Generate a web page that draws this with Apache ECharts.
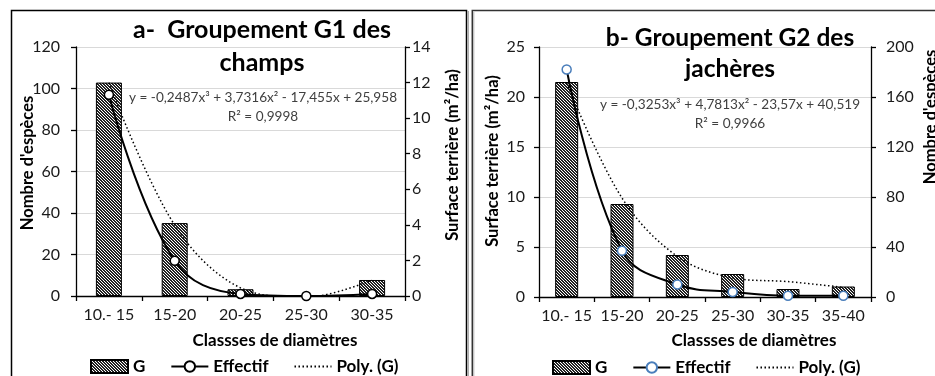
<!DOCTYPE html>
<html><head><meta charset="utf-8">
<script src="https://cdn.jsdelivr.net/npm/echarts@6/dist/echarts.min.js"></script>
<style>
html,body{margin:0;padding:0;background:#fff;}
#wrap{position:relative;width:935px;height:376px;overflow:hidden;}
#a{position:absolute;left:0;top:0;width:469px;height:376px;}
#b{position:absolute;left:469px;top:0;width:466px;height:376px;}
</style></head>
<body><div id="wrap"><div id="a"></div><div id="b"></div></div>
<script>
// ---- Data: chart a (G1 des champs) ----
const catsA = ['10.- 15','15-20','20-25','25-30','30-35'];
const gA = [12.0, 4.1, 0.38, 0, 0.9];          // Surface terrière (m²/ha)
const effA = [97, 17, 1, 0, 1];                 // Nombre d'espèces
const polyA = [11.99, 3.98, 0.46, -0.07, 0.89]; // Poly. (G) trend values at classes
// ---- Data: chart b (G2 des jachères) ----
const catsB = ['10.- 15','15-20','20-25','25-30','30-35','35-40'];
const gB = [21.5, 9.3, 4.2, 2.3, 0.8, 1.05];
const effB = [182, 37, 10, 4, 1, 1];
const polyB = [21.4, 9.9, 4.06, 1.92, 1.54, 0.96];

const FONT = 'Lato';
function hatch(){
  const c = document.createElement('canvas'); c.width = 3; c.height = 3;
  const ctx = c.getContext('2d');
  ctx.fillStyle = '#ffffff'; ctx.fillRect(0,0,3,3);
  ctx.fillStyle = '#222222';
  for (let x=0;x<3;x++) for (let y=0;y<3;y++) if (((x - y + 6) % 3) !== 0) ctx.fillRect(x,y,1,1);
  return {image: c, repeat: 'repeat'};
}
const pat = hatch();

function makeOption(cfg){
  const axisLine = {show:true, lineStyle:{color:'#000', width:1.3}};
  const tick = {show:true, inside:false, length:5, lineStyle:{color:'#000', width:1.3}};
  const lbl = {fontFamily:FONT, fontSize:16, color:'#1a1a1a'};
  return {
    animation:false,
    textStyle:{fontFamily:FONT},
    grid:{left:cfg.grid[0], top:cfg.grid[1], width:cfg.grid[2], height:cfg.grid[3], containLabel:false},
    xAxis:{type:'category', data:cfg.cats, axisLine:axisLine, axisTick:tick,
      axisLabel:Object.assign({margin:11, interval:0}, lbl), splitLine:{show:false}},
    yAxis:[
      {type:'value', position:'left', min:cfg.yl[0], max:cfg.yl[1], interval:cfg.yl[2],
        axisLine:axisLine, axisTick:tick, axisLabel:Object.assign({margin:cfg.ml}, lbl),
        splitLine:{show:true, lineStyle:{color:'#d9d9d9', width:1}}},
      {type:'value', position:'right', min:cfg.yr[0], max:cfg.yr[1], interval:cfg.yr[2],
        axisLine:axisLine, axisTick:tick, axisLabel:Object.assign({margin:cfg.mr}, lbl),
        splitLine:{show:false}}
    ],
    legend:{left:cfg.legLeft, top:cfg.legTop, itemWidth:37, itemHeight:13, itemGap:25,
      textStyle:{fontFamily:FONT, fontSize:17, fontWeight:'bold', color:'#000'},
      data:[{name:'G', icon:'rect'}, {name:'Effectif'},
        {name:'Poly. (G)', itemStyle:{color:'rgba(0,0,0,0)', borderWidth:0, opacity:0}}]},
    series:[
      {name:'G', type:'bar', yAxisIndex:cfg.gAxis, data:cfg.g, barWidth:cfg.barW,
        itemStyle:{color:pat, borderColor:'#000', borderWidth:1}, z:2},
      {name:'Poly. (G)', type:'line', yAxisIndex:cfg.gAxis, data:cfg.poly, smooth:0.35,
        symbol:'none', lineStyle:{color:'#000', width:1.5, type:[1.5,2.5]},
        itemStyle:{color:'rgba(0,0,0,0)'}, z:3},
      {name:'Effectif', type:'line', yAxisIndex:1-cfg.gAxis, data:cfg.eff, smooth:0.4,
        symbol:'circle', symbolSize:9, showSymbol:true,
        lineStyle:{color:'#000', width:2},
        itemStyle:{color:'#fff', borderColor:cfg.mk, borderWidth:1.5}, z:4}
    ],
    graphic:cfg.graphic
  };
}

function txt(x,y,text,size,bold,extra){
  return Object.assign({type:'text', x:x, y:y, silent:true, z:10,
    style:{text:text, fontFamily:FONT, fontSize:size, fontWeight:bold?'bold':'normal',
      fill:'#000', align:'center', verticalAlign:'middle'}}, extra||{});
}
function vtxt(x,y,text){
  return {type:'text', x:x, y:y, rotation:Math.PI/2, silent:true, z:10,
    style:{text:text, fontFamily:FONT, fontSize:16.5, fontWeight:'bold', fill:'#000',
      align:'center', verticalAlign:'middle'}};
}
function eq(x,y,text){
  const t = txt(x,y,text,13.6,false); t.style.fill = '#404040'; return t;
}

const chartA = echarts.init(document.getElementById('a'), null, {renderer:'canvas', devicePixelRatio:1});
chartA.setOption(makeOption({
  cats:catsA, g:gA, eff:effA, poly:polyA, gAxis:1,
  grid:[76,47,329,249], yl:[0,120,20], yr:[0,14,2], ml:16, mr:7,
  barW:26, mk:'#000', legLeft:85, legTop:353,
  graphic:[
    {type:'polyline', silent:true, shape:{points:[[11.5,380],[11.5,10.5],[466.5,10.5],[466.5,380]]},
      style:{stroke:'#000', lineWidth:1.5, fill:null}},
    {type:'line', silent:true, shape:{x1:468.2,y1:11,x2:468.2,y2:380}, style:{stroke:'#9a9a9a', lineWidth:1.2}},
    txt(262,30,'a-  Groupement G1 des',25,true),
    txt(262,63,'champs',25,true),
    eq(263,98,'y = -0,2487x³ + 3,7316x² - 17,455x + 25,958'),
    eq(263,117,'R² = 0,9998'),
    txt(275,341,'Classses de diamètres',17,true),
    vtxt(28,163,"Nombre d'espèces"),
    vtxt(453,155,'Surface terrière (m²/ha)')
  ]
}));

const chartB = echarts.init(document.getElementById('b'), null, {renderer:'canvas', devicePixelRatio:1});
chartB.setOption(makeOption({
  cats:catsB, g:gB, eff:effB, poly:polyB, gAxis:0,
  grid:[70,47,332,250], yl:[0,25,5], yr:[0,200,40], ml:14, mr:15,
  barW:23, mk:'#4a7ebb', legLeft:78, legTop:354,
  graphic:[
    {type:'polyline', silent:true, shape:{points:[[3.3,380],[3.3,10.5],[470,10.5]]},
      style:{stroke:'#333', lineWidth:1.5, fill:null}},
    {type:'line', silent:true, shape:{x1:4.8,y1:12,x2:4.8,y2:380}, style:{stroke:'#b0b0b0', lineWidth:1}},
    txt(261,38,'b- Groupement G2 des',24.5,true),
    txt(261,69,'jachères',24.5,true),
    eq(261,105,'y = -0,3253x³ + 4,7813x² - 23,57x + 40,519'),
    eq(261,124,'R² = 0,9966'),
    txt(285,341,'Classses de diamètres',17,true),
    vtxt(24,161,'Surface terrière (m²/ha)'),
    vtxt(462,117,"Nombre d'espèces")
  ]
}));
</script></body></html>
